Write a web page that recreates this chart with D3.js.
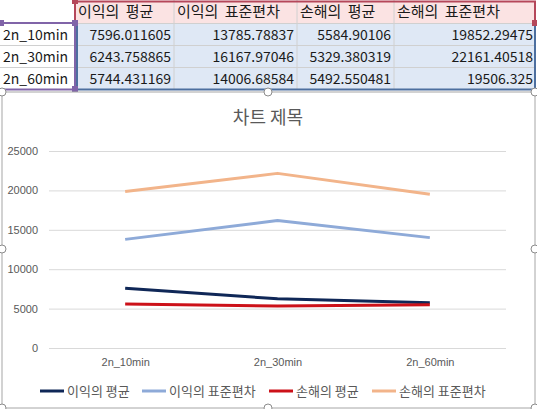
<!DOCTYPE html>
<html>
<head>
<meta charset="utf-8">
<script src="https://cdn.jsdelivr.net/npm/d3@7"></script>
<style>
  body { margin: 0; background: #fff; }
  text { font-family: "Noto Sans CJK KR", "Noto Sans", sans-serif; }
</style>
</head>
<body>
<div id="plot"></div>
<script>
// data
const categories = ["2n_10min", "2n_30min", "2n_60min"];
const seriesNames = ["이익의 평균", "이익의 표준편차", "손해의 평균", "손해의 표준편차"];
const profitMean = [7596.011605, 6243.758865, 5744.431169];
const profitStd = [13785.78837, 16167.97046, 14006.68584];
const lossMean = [5584.90106, 5329.380319, 5492.550481];
const lossStd = [19852.29475, 22161.40518, 19506.325];
const yTicks = [0, 5000, 10000, 15000, 20000, 25000];
const tableText = [
  ["7596.011605", "13785.78837", "5584.90106", "19852.29475"],
  ["6243.758865", "16167.97046", "5329.380319", "22161.40518"],
  ["5744.431169", "14006.68584", "5492.550481", "19506.325"]
];
const seriesValues = [profitMean, profitStd, lossMean, lossStd];
const colors = ["#0f2757", "#8eaad8", "#cc1119", "#f2b48a"];

const svg = d3.select("#plot").append("svg")
  .attr("width", 537).attr("height", 409);

// ---- spreadsheet part ----
const colEdges = [0, 75, 174, 297, 394, 536];
const rowEdges = [0, 23, 45, 67, 90];
const table = svg.append("g");

// cell fills
table.append("rect").attr("x", 75).attr("y", 1).attr("width", 461).attr("height", 22).attr("fill", "#fbe3e3");
table.append("rect").attr("x", 75).attr("y", 23).attr("width", 461).attr("height", 67).attr("fill", "#dfe8f5");

// grid
for (let i = 1; i < colEdges.length - 1; i++) {
  table.append("line").attr("x1", colEdges[i]).attr("x2", colEdges[i])
    .attr("y1", 0).attr("y2", 90).attr("stroke", "#d0d0d0");
}
for (let j = 1; j < rowEdges.length - 1; j++) {
  table.append("line").attr("x1", 0).attr("x2", 536)
    .attr("y1", rowEdges[j] + 0.5).attr("y2", rowEdges[j] + 0.5).attr("stroke", "#d0d0d0");
}

// header text
seriesNames.forEach((s, i) => {
  table.append("text").attr("x", colEdges[i + 1] + 3).attr("y", 17)
    .attr("font-size", 15).attr("word-spacing", 3).attr("fill", "#1a1a1a").text(s);
});
// row labels + values
categories.forEach((c, r) => {
  const yb = rowEdges[r + 1] + 17;
  table.append("text").attr("x", 3).attr("y", yb)
    .attr("font-size", 14).attr("fill", "#1a1a1a").text(c);
  tableText[r].forEach((t, i) => {
    table.append("text").attr("x", colEdges[i + 2] - 3).attr("y", yb)
      .attr("text-anchor", "end").attr("font-size", 14).attr("fill", "#1a1a1a").text(t);
  });
});

// selection outlines
table.append("path").attr("d", "M75,22 V1.5 H535 V23").attr("fill", "none").attr("stroke", "#b5475a").attr("stroke-width", 2);
table.append("path").attr("d", "M0,23 H75 V89.5 H0").attr("fill", "none").attr("stroke", "#8064a8").attr("stroke-width", 2);
table.append("path").attr("d", "M77,24 V89.5 H535 V24").attr("fill", "none").attr("stroke", "#4d6f9f").attr("stroke-width", 2);
[[75, 1, "#b5475a"], [535, 23, "#b5475a"], [1, 23, "#8064a8"], [75, 23, "#8064a8"], [75, 89, "#8064a8"]]
  .forEach(d => table.append("rect").attr("x", d[0] - 3).attr("y", d[1] - 3)
    .attr("width", 6).attr("height", 6).attr("fill", d[2]));

// ---- chart part ----
const chart = svg.append("g");
chart.append("rect").attr("x", 2).attr("y", 92).attr("width", 533).attr("height", 316)
  .attr("fill", "#fff").attr("stroke", "#a6a6a6");

chart.append("text").attr("x", 268).attr("y", 124).attr("text-anchor", "middle")
  .attr("font-size", 18).attr("fill", "#595959").text("차트 제목");

const x = d3.scalePoint().domain(categories).range([49, 506]).padding(0.5);
const y = d3.scaleLinear().domain([0, 25000]).range([348, 151]);

const yAxis = chart.append("g").attr("transform", "translate(49,0)")
  .call(d3.axisLeft(y).tickValues(yTicks).tickFormat(d3.format("d")).tickSize(-457).tickPadding(11));
yAxis.select(".domain").remove();
yAxis.selectAll("line").attr("stroke", "#d9d9d9");
yAxis.selectAll("text").attr("fill", "#595959").attr("font-size", 11)
  .style("font-family", "'Liberation Sans', Arial, sans-serif");

const xAxis = chart.append("g").attr("transform", "translate(0,348)")
  .call(d3.axisBottom(x).tickSize(0).tickPadding(10));
xAxis.select(".domain").remove();
xAxis.selectAll("text").attr("fill", "#595959").attr("font-size", 11)
  .style("font-family", "'Liberation Sans', Arial, sans-serif");

const line = d3.line().x((d, i) => x(categories[i])).y(d => y(d));
seriesValues.forEach((vals, k) => {
  chart.append("path").datum(vals).attr("d", line)
    .attr("fill", "none").attr("stroke", colors[k]).attr("stroke-width", 3)
    .attr("stroke-linejoin", "round");
});

// legend
const legendX = [40, 142, 269, 372];
seriesNames.forEach((s, k) => {
  const g = chart.append("g").attr("transform", "translate(" + legendX[k] + ",391)");
  g.append("line").attr("x1", 0).attr("x2", 24).attr("y1", 0).attr("y2", 0)
    .attr("stroke", colors[k]).attr("stroke-width", 3);
  g.append("text").attr("x", 27).attr("y", 5).attr("font-size", 13)
    .attr("fill", "#595959").text(s);
});

// chart handles
[[2, 92], [268, 92], [535, 92], [2, 249], [535, 249], [2, 408], [268, 408], [535, 408]]
  .forEach(d => chart.append("circle").attr("cx", d[0]).attr("cy", d[1]).attr("r", 4)
    .attr("fill", "#fff").attr("stroke", "#8c8c8c"));
</script>
</body>
</html>
